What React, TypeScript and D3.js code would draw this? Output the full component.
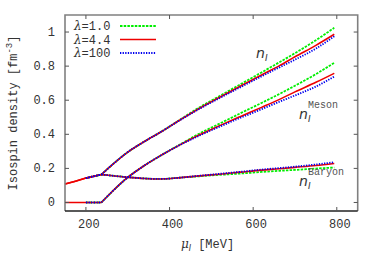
import React from "react";
import * as d3 from "d3";

// chemical potential grid [MeV]; index 3 (237) is the onset kink
const mu = [150, 175, 200, 237, 260, 297, 340, 380, 427, 472, 520, 570, 620, 663, 700, 750, 794];
const kink = 3;

// lambda = 4.4 (red, solid)
const totalRed = [0.108, 0.125, 0.143, 0.164, 0.215, 0.29, 0.358, 0.415, 0.487, 0.553, 0.617, 0.683, 0.748, 0.803, 0.855, 0.922, 0.987];
const mesonRed = [0, 0, 0, 0, 0.057, 0.141, 0.217, 0.277, 0.341, 0.397, 0.451, 0.505, 0.558, 0.605, 0.649, 0.705, 0.758];
const baryonRed = [0.108, 0.125, 0.143, 0.164, 0.158, 0.149, 0.141, 0.138, 0.146, 0.156, 0.166, 0.178, 0.19, 0.198, 0.206, 0.217, 0.229];

// lambda = 1.0 (green, dashed) - starts at 200
const totalGreen = [null, null, 0.143, 0.164, 0.215, 0.29, 0.358, 0.415, 0.489, 0.559, 0.625, 0.694, 0.763, 0.823, 0.876, 0.952, 1.025];
const mesonGreen = [null, null, 0, 0, 0.057, 0.141, 0.217, 0.277, 0.343, 0.405, 0.463, 0.524, 0.584, 0.637, 0.685, 0.753, 0.82];
const baryonGreen = [null, null, 0.143, 0.164, 0.158, 0.149, 0.141, 0.138, 0.146, 0.154, 0.162, 0.17, 0.179, 0.186, 0.191, 0.199, 0.205];

// lambda = 100 (blue, dotted) - starts at 200
const totalBlue = [null, null, 0.143, 0.164, 0.215, 0.29, 0.358, 0.415, 0.486, 0.55, 0.613, 0.677, 0.74, 0.793, 0.838, 0.903, 0.975];
const mesonBlue = [null, null, 0, 0, 0.057, 0.141, 0.217, 0.277, 0.34, 0.393, 0.445, 0.497, 0.547, 0.591, 0.628, 0.68, 0.739];
const baryonBlue = [null, null, 0.143, 0.164, 0.158, 0.149, 0.141, 0.138, 0.146, 0.157, 0.168, 0.18, 0.193, 0.202, 0.21, 0.223, 0.236];

const xTicks = [200, 400, 600, 800];
const yTicks = [0, 0.2, 0.4, 0.6, 0.8, 1];
const legendLabels = ["1.0", "4.4", "100"];

const W = 382;
const H = 267;
const left = 65;
const right = 357.7;
const top = 15;
const bottom = 211;

const mono = "'Liberation Mono', 'DejaVu Sans Mono', monospace";
const sans = "'DejaVu Sans', sans-serif";

export default function App() {
  const x = d3.scaleLinear().domain([150, 850]).range([left, right]);
  const y = d3.scaleLinear().domain([-0.05, 1.1]).range([bottom, top]);

  type P = [number, number | null];
  const pts = (s: (number | null)[]): P[] => s.map((v, i) => [mu[i], v]);

  // straight below the onset, smooth above it (keeps the kink sharp)
  const lowLine = d3
    .line<P>()
    .defined((d) => d[1] !== null)
    .x((d) => x(d[0]))
    .y((d) => y(d[1] as number));
  const highLine = d3
    .line<P>()
    .defined((d) => d[1] !== null)
    .x((d) => x(d[0]))
    .y((d) => y(d[1] as number))
    .curve(d3.curveMonotoneX);

  const pathOf = (s: (number | null)[]) => {
    const p = pts(s);
    return (lowLine(p.slice(0, kink + 1)) || "") + (highLine(p.slice(kink)) || "");
  };

  const styles = [
    { color: "#00ee00", dash: "2.5,1.2", width: 1.8 },
    { color: "#ee0000", dash: "", width: 1.6 },
    { color: "#0000ee", dash: "1.3,1.3", width: 1.8 },
  ];
  const groups = [
    [totalGreen, mesonGreen, baryonGreen],
    [totalRed, mesonRed, baryonRed],
    [totalBlue, mesonBlue, baryonBlue],
  ];

  return (
    <svg
      width={W}
      height={H}
      style={{ position: "absolute", left: 0, top: 0, background: "#fff" }}
    >
      {/* curves */}
      <g fill="none">
        {groups.map((g, k) =>
          g.map((s, j) => (
            <path
              key={k + "-" + j}
              d={pathOf(s)}
              stroke={styles[k].color}
              strokeWidth={styles[k].width}
              strokeDasharray={styles[k].dash}
            />
          ))
        )}
      </g>

      {/* frame */}
      <path
        d={`M${left},${bottom}V${top}H${right}V${bottom}`}
        fill="none"
        stroke="#808080"
        strokeWidth={1.6}
      />
      <line x1={left} x2={right} y1={bottom} y2={bottom} stroke="#222" strokeWidth={1.4} />

      {/* ticks */}
      <g stroke="#555" strokeWidth={1}>
        {xTicks.map((t) => (
          <g key={"xt" + t}>
            <line x1={x(t)} x2={x(t)} y1={bottom} y2={bottom - 4} />
            <line x1={x(t)} x2={x(t)} y1={top} y2={top + 4} />
          </g>
        ))}
        {yTicks.map((t) => (
          <g key={"yt" + t}>
            <line x1={left} x2={left + 4} y1={y(t)} y2={y(t)} />
            <line x1={right} x2={right - 4} y1={y(t)} y2={y(t)} />
          </g>
        ))}
      </g>

      {/* tick labels */}
      <g fontFamily={mono} fontSize={12} fill="#333">
        {xTicks.map((t) => (
          <text key={"xl" + t} x={x(t) + 3} y={228} textAnchor="middle">
            {t}
          </text>
        ))}
        {yTicks.map((t) => (
          <text key={"yl" + t} x={55} y={y(t) + 4} textAnchor="end">
            {t}
          </text>
        ))}
      </g>

      {/* axis titles */}
      <text
        transform="translate(17,113) rotate(-90)"
        textAnchor="middle"
        fontFamily={mono}
        fontSize={12}
        fill="#333"
      >
        Isospin density [fm
        <tspan fontSize={9} dy={-5}>-3</tspan>
        <tspan dy={5}>]</tspan>
      </text>
      <text x={181} y={248} fontSize={12} fill="#333">
        <tspan fontFamily="'DejaVu Serif', serif" fontStyle="italic">μ</tspan>
        <tspan fontFamily={sans} fontStyle="italic" fontSize={8} dy={3}>I</tspan>
        <tspan fontFamily={mono} dy={-3} dx={7}>[MeV]</tspan>
      </text>

      {/* legend */}
      {legendLabels.map((l, i) => {
        const ly = 26 + i * 13.5;
        return (
          <g key={"lg" + l}>
            <text x={74} y={ly + 4} fontSize={12} fill="#333">
              <tspan fontFamily="'DejaVu Serif', serif" fontStyle="italic">λ</tspan>
              <tspan fontFamily={mono}>={l}</tspan>
            </text>
            <line
              x1={120}
              x2={156}
              y1={ly}
              y2={ly}
              stroke={styles[i].color}
              strokeWidth={styles[i].width}
              strokeDasharray={styles[i].dash}
            />
          </g>
        );
      })}

      {/* curve annotations */}
      <g fill="#333">
        <text x={256} y={58}>
          <tspan fontFamily={sans} fontStyle="italic" fontSize={14}>n</tspan>
          <tspan fontFamily={sans} fontStyle="italic" fontSize={9} dy={3}>I</tspan>
        </text>
        <text x={299} y={119}>
          <tspan fontFamily={sans} fontStyle="italic" fontSize={14}>n</tspan>
          <tspan fontFamily={sans} fontStyle="italic" fontSize={9} dy={3}>I</tspan>
        </text>
        <text x={308} y={108} fontFamily={mono} fontSize={10} fill="#555">Meson</text>
        <text x={299} y={186}>
          <tspan fontFamily={sans} fontStyle="italic" fontSize={14}>n</tspan>
          <tspan fontFamily={sans} fontStyle="italic" fontSize={9} dy={3}>I</tspan>
        </text>
        <text x={308} y={175} fontFamily={mono} fontSize={10} fill="#555">Baryon</text>
      </g>
    </svg>
  );
}
